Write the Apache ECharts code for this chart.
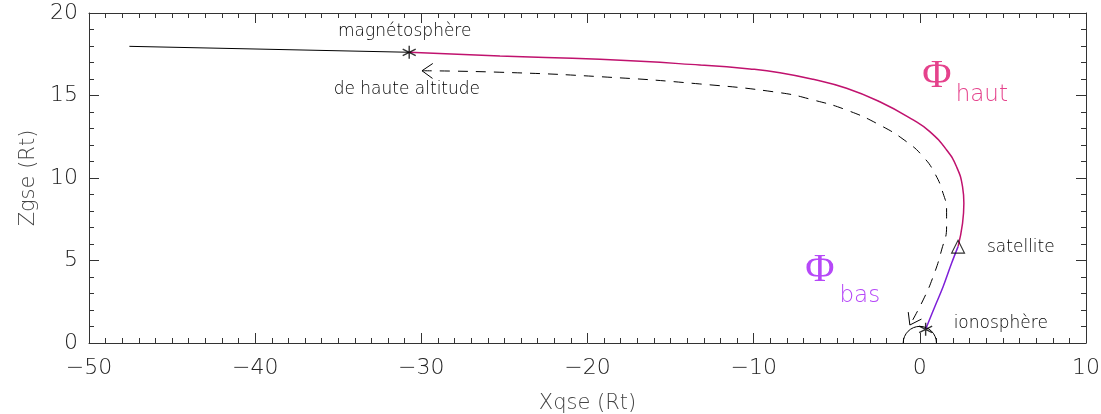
<!DOCTYPE html>
<html>
<head>
<meta charset="utf-8">
<script src="https://cdn.jsdelivr.net/npm/echarts@6/dist/echarts.min.js"></script>
<style>
html, body { margin: 0; padding: 0; background: #fff; }
#chart { width: 1101px; height: 414px; }
</style>
</head>
<body>
<div id="chart"></div>
<script>
// field line, Rt (GSE)
var tailX = [-47.57, -30.73];
var tailY = [17.98, 17.62];

var hautX = [-30.73, -25.27, -19.25, -13.24, -10.23, -8.42, -6.42, -4.41, -2.41, -0.40, 0.60, 1.61, 2.21, 2.57, 2.65, 2.57, 2.30];
var hautY = [17.62, 17.39, 17.19, 16.85, 16.61, 16.38, 15.98, 15.44, 14.62, 13.52, 12.81, 11.70, 10.68, 9.47, 8.47, 7.25, 5.84];

var basX = [2.30, 1.91, 1.40, 0.90, 0.35];
var basY = [5.84, 4.83, 3.41, 2.20, 0.83];

// dashed path, drawn from the magnetosphere end to the ionosphere end
var pathX = [-29.96, -25.27, -19.25, -13.24, -8.42, -6.42, -4.41, -2.41, -0.80, 0.20, 0.90, 1.40, 1.61, 1.61, 1.31, 0.80, 0.20, -0.60];
var pathY = [16.50, 16.41, 16.14, 15.70, 15.17, 14.73, 14.12, 13.21, 12.20, 11.29, 10.28, 9.07, 8.06, 7.05, 5.64, 4.02, 2.61, 1.09];

var starX = [-30.73, 0.35];
var starY = [17.62, 0.83];
var satX = [2.30];
var satY = [5.84];

var earthR = 1;

var noteText = ['magnétosphère', 'de haute altitude', 'satellite', 'ionosphère'];
var noteX = [-31.0, -30.87, 6.08, 4.87];
var noteY = [18.85, 15.33, 5.76, 1.15];

var phiText = ['Φ', 'haut', 'Φ', 'bas'];
var phiX = [1.02, 3.73, -6.02, -3.61];
var phiY = [16.18, 15.03, 4.42, 2.85];

var xTicks = [-50, 10, 10];   // min, max, step
var yTicks = [0, 20, 5];

function zip(a, b) {
    var out = [];
    for (var i = 0; i < a.length; i++) out.push([a[i], b[i]]);
    return out;
}

var chart = echarts.init(document.getElementById('chart'), null, {renderer: 'canvas'});

var FONT = 'DejaVu Sans';
var magenta = '#c0126e';
var purple = '#7d1fd8';
var pinkText = '#e5428c';
var violetText = '#b648f8';

var star = 'path://M5,0L5,10M0.67,2.5L9.33,7.5M0.67,7.5L9.33,2.5';

function minus(v) {
    return String(v).replace('-', '\u2212');
}

var xBase = {
    type: 'value', min: xTicks[0], max: xTicks[1], interval: xTicks[2],
    axisLine: {show: true, onZero: false, lineStyle: {color: '#333', width: 1}},
    axisTick: {show: true, inside: true, length: 10, lineStyle: {color: '#333'}},
    minorTick: {show: true, splitNumber: 10, length: 5, lineStyle: {color: '#333'}},
    splitLine: {show: false}
};
var yBase = {
    type: 'value', min: yTicks[0], max: yTicks[1], interval: yTicks[2],
    axisLine: {show: true, onZero: false, lineStyle: {color: '#333', width: 1}},
    axisTick: {show: true, inside: true, length: 10, lineStyle: {color: '#333'}},
    minorTick: {show: true, splitNumber: 5, length: 5, lineStyle: {color: '#333'}},
    splitLine: {show: false}
};

var option = {
    animation: false,
    backgroundColor: '#fff',
    grid: {left: 89, right: 15, top: 13, bottom: 71, outerBoundsMode: 'none', containLabel: false},
    xAxis: [
        echarts.util.merge({
            position: 'bottom',
            axisLabel: {color: '#222', fontFamily: FONT, fontWeight: 200, fontSize: 22, margin: 14, formatter: minus},
            name: 'Xqse (Rt)', nameLocation: 'middle', nameGap: 50,
            nameTextStyle: {color: '#444', fontFamily: FONT, fontWeight: 200, fontSize: 21}
        }, xBase, true),
        echarts.util.merge({position: 'top', axisLabel: {show: false}}, xBase, true)
    ],
    yAxis: [
        echarts.util.merge({
            position: 'left',
            axisLabel: {color: '#222', fontFamily: FONT, fontWeight: 200, fontSize: 22, margin: 11},
            name: 'Zgse (Rt)', nameLocation: 'middle', nameGap: 50,
            nameTextStyle: {color: '#444', fontFamily: FONT, fontWeight: 200, fontSize: 21}
        }, yBase, true),
        echarts.util.merge({position: 'right', axisLabel: {show: false}}, yBase, true)
    ],
    series: [
        {
            type: 'line', data: zip(tailX, tailY), showSymbol: false, smooth: false,
            lineStyle: {color: '#000', width: 1}, z: 3
        },
        {
            type: 'line', data: zip(hautX, hautY), showSymbol: false, smooth: 0.5,
            lineStyle: {color: magenta, width: 1.5}, z: 3
        },
        {
            type: 'line', data: zip(basX, basY), showSymbol: false, smooth: 0.4,
            lineStyle: {color: purple, width: 1.5}, z: 3
        },
        {
            type: 'line', data: zip(pathX, pathY), showSymbol: false, smooth: 0.5,
            lineStyle: {color: '#000', width: 1, type: [10, 8]}, z: 3
        },
        {
            // open chevrons at both ends of the dashed path
            type: 'custom',
            data: [
                [pathX[0], pathY[0], pathX[1], pathY[1]],
                [pathX[pathX.length - 1], pathY[pathY.length - 1], pathX[pathX.length - 2], pathY[pathY.length - 2]]
            ],
            encode: {x: [0, 2], y: [1, 3]},
            renderItem: function (params, api) {
                var tip = api.coord([api.value(0), api.value(1)]);
                var prev = api.coord([api.value(2), api.value(3)]);
                var a = Math.atan2(prev[1] - tip[1], prev[0] - tip[0]);
                var L = 13, w = 35 * Math.PI / 180;
                return {
                    type: 'polyline',
                    shape: {points: [
                        [tip[0] + L * Math.cos(a + w), tip[1] + L * Math.sin(a + w)],
                        tip,
                        [tip[0] + L * Math.cos(a - w), tip[1] + L * Math.sin(a - w)]
                    ]},
                    style: {stroke: '#000', lineWidth: 1, fill: null}
                };
            },
            z: 4
        },
        {
            // earth: upper half of the unit circle
            type: 'custom',
            data: [[0, 0, earthR]],
            encode: {x: 0, y: 1},
            renderItem: function (params, api) {
                var c = api.coord([api.value(0), api.value(1)]);
                var r = api.size([api.value(2), api.value(2)]);
                return {
                    type: 'arc',
                    shape: {cx: c[0], cy: c[1], r: r[0], startAngle: Math.PI, endAngle: 2 * Math.PI, clockwise: true},
                    style: {stroke: '#000', lineWidth: 1, fill: null}
                };
            },
            z: 3
        },
        {
            type: 'scatter', data: zip(starX, starY), symbol: star, symbolSize: 13,
            itemStyle: {color: 'none', borderColor: '#000', borderWidth: 1.4}, z: 5
        },
        {
            type: 'scatter', data: zip(satX, satY), symbol: 'triangle', symbolSize: 13,
            itemStyle: {color: 'none', borderColor: '#000', borderWidth: 1.1}, z: 5
        },
        {
            type: 'custom',
            data: zip(noteX, noteY),
            encode: {x: 0, y: 1},
            renderItem: function (params, api) {
                var p = api.coord([api.value(0), api.value(1)]);
                return {
                    type: 'text', x: p[0], y: p[1],
                    style: {text: noteText[params.dataIndex], fill: '#000',
                        font: '300 17px "' + FONT + '"', align: 'center', verticalAlign: 'middle'}
                };
            },
            z: 6
        },
        {
            type: 'custom',
            data: zip(phiX, phiY),
            encode: {x: 0, y: 1},
            renderItem: function (params, api) {
                var i = params.dataIndex;
                var p = api.coord([api.value(0), api.value(1)]);
                var big = phiText[i] === 'Φ';
                return {
                    type: 'text', x: p[0], y: p[1],
                    style: {text: phiText[i], fill: i < 2 ? pinkText : violetText,
                        font: big ? '40px "Liberation Serif"' : '300 23px "' + FONT + '"',
                        align: 'center', verticalAlign: 'middle'}
                };
            },
            z: 6
        }
    ]
};

chart.setOption(option);
</script>
</body>
</html>
